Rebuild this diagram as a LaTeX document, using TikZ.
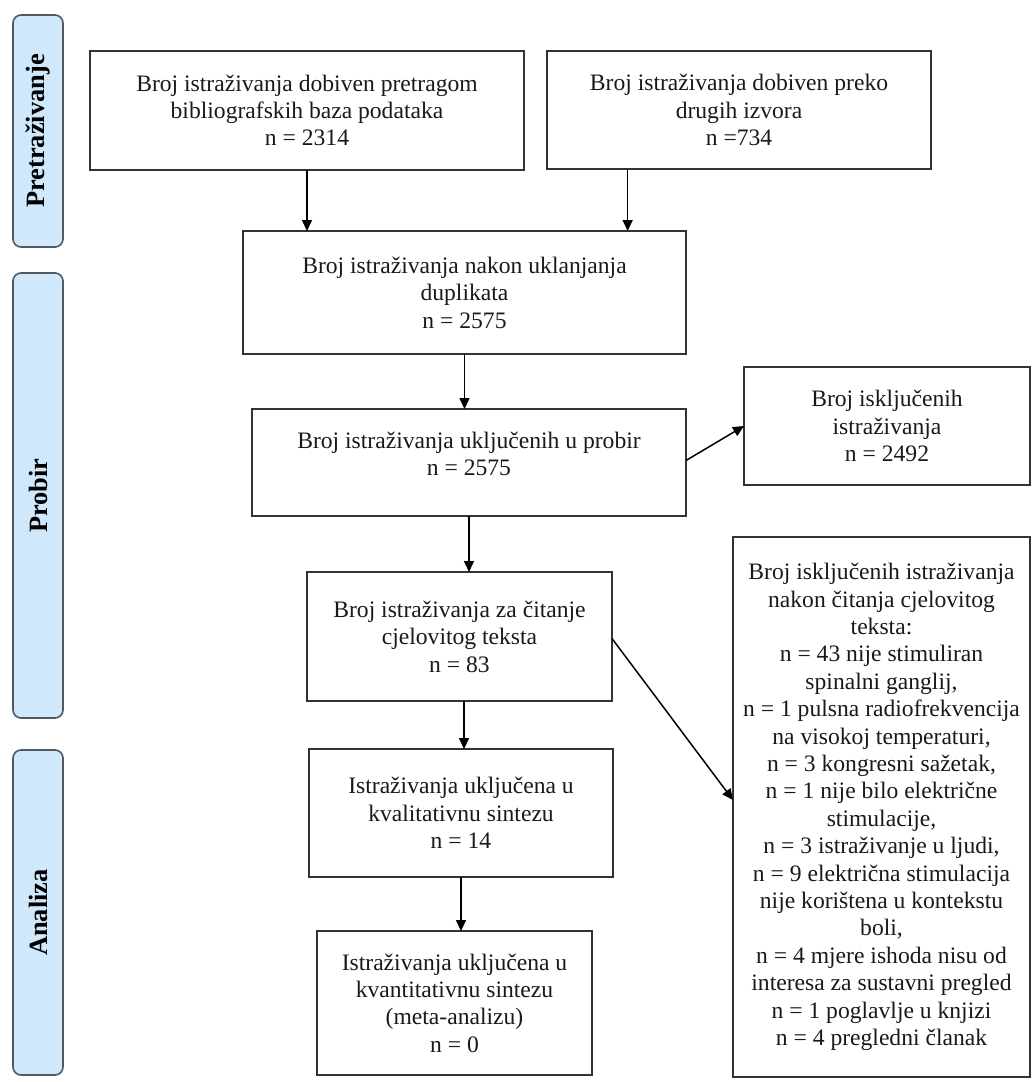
\documentclass[tikz,border=0pt]{standalone}
\usepackage{fontspec}
\setmainfont{Liberation Serif}
\usepackage{tikz}
\usetikzlibrary{arrows.meta,calc}
\definecolor{sideblue}{RGB}{207,232,251}
\definecolor{sideline}{RGB}{80,88,98}

\begin{document}
\begin{tikzpicture}[x=0.5pt,y=-0.5pt,
  box/.style={draw=black!80,line width=0.8pt,inner sep=0pt,outer sep=0pt,
    align=center,font=\fontsize{11.8}{13.7}\selectfont,text=black!90},
  side/.style={draw=sideline,fill=sideblue,line width=0.8pt,rounded corners=4pt,
    rotate=90,minimum height=25pt,inner sep=0pt,
    font=\fontsize{13.2}{15}\selectfont\bfseries},
  arr/.style={-{Triangle[length=5.5pt,width=5pt]},line width=0.75pt}]
\useasboundingbox (0,0) rectangle (1033,1082);
% faze
\node[side,minimum width=116pt] (faza1) at (38,131) {Pretraživanje};
\node[side,minimum width=222.5pt] (faza2) at (38,495.5) {Probir};
\node[side,minimum width=162.5pt] (faza3) at (38,912.5) {Analiza};
% glavni tok
\node[box,minimum width=217pt,minimum height=59.5pt] (src1) at (307,110.5)
  {Broj istraživanja dobiven pretragom\\bibliografskih baza podataka\\n = 2314};
\node[box,minimum width=192pt,minimum height=59pt] (src2) at (739,110)
  {Broj istraživanja dobiven preko\\drugih izvora\\n =734};
\node[box,minimum width=221.5pt,minimum height=61.5pt] (dup) at (464.5,292.5)
  {Broj istraživanja nakon uklanjanja\\duplikata\\n = 2575};
\node[box,minimum width=217pt,minimum height=53.5pt] (screen) at (469,462.5)
  {Broj istraživanja uključenih u probir\\n = 2575\\[-4.7pt]};
\node[box,minimum width=152.5pt,minimum height=64.5pt] (full) at (459.5,636.5)
  {Broj istraživanja za čitanje\\cjelovitog teksta\\n = 83};
\node[box,minimum width=152pt,minimum height=64pt] (qual) at (461,813)
  {Istraživanja uključena u\\kvalitativnu sintezu\\n = 14};
\node[box,minimum width=137.5pt,minimum height=72pt] (quant) at (454.5,1003)
  {Istraživanja uključena u\\kvantitativnu sintezu\\(meta-analizu)\\n = 0};
% isključena
\node[box,minimum width=143pt,minimum height=59pt] (excl1) at (887,426)
  {Broj isključenih\\istraživanja\\n = 2492};
\node[box,minimum width=148.5pt,minimum height=270pt] (excl2) at (881.5,807)
  {Broj isključenih istraživanja\\nakon čitanja cjelovitog\\teksta:\\
   n = 43 nije stimuliran\\spinalni ganglij,\\
   n = 1 pulsna radiofrekvencija\\na visokoj temperaturi,\\
   n = 3 kongresni sažetak,\\
   n = 1 nije bilo električne\\stimulacije,\\
   n = 3 istraživanje u ljudi,\\
   n = 9 električna stimulacija\\nije korištena u kontekstu\\boli,\\
   n = 4 mjere ishoda nisu od\\interesa za sustavni pregled\\
   n = 1 poglavlje u knjizi\\n = 4 pregledni članak};
% strelice
\draw[arr] (src1.south) -- (src1.south |- dup.north);
\draw[arr] ($(src2.south west)!.21!(src2.south east)$) coordinate (s2) -- (s2 |- dup.north);
\draw[arr] (dup.south) -- (dup.south |- screen.north);
\draw[arr] (screen.south) -- (screen.south |- full.north);
\draw[arr] ($(full.south)+(4.5,0)$) coordinate (f2) -- (f2 |- qual.north);
\draw[arr] (qual.south) -- (qual.south |- quant.north);
\draw[arr] ($(screen.east)+(0,-2)$) -- (excl1.west);
\draw[arr] ($(full.east)+(0,2)$) -- ($(excl2.west)+(0,-7)$);
\end{tikzpicture}
\end{document}
